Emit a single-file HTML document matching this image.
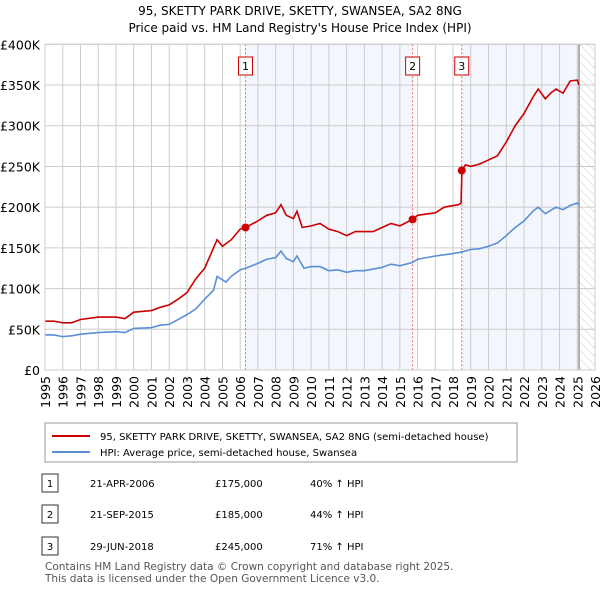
<!DOCTYPE html>
<html><head><meta charset="utf-8"><style>
body{margin:0;width:600px;height:590px;background:#fff;font-family:"DejaVu Sans","Liberation Sans",sans-serif;color:#222;overflow:hidden}
</style></head><body>
<svg width="600" height="590" style="position:absolute;left:0;top:0" font-family="DejaVu Sans, Liberation Sans, sans-serif">
<defs><pattern id="hatch" width="6" height="6" patternUnits="userSpaceOnUse" patternTransform="rotate(-45)"><line x1="0" y1="0" x2="0" y2="6" stroke="#ccc" stroke-width="1"/></pattern></defs>
<text x="300" y="15" text-anchor="middle" font-size="12">95, SKETTY PARK DRIVE, SKETTY, SWANSEA, SA2 8NG</text>
<text x="300" y="32" text-anchor="middle" font-size="12">Price paid vs. HM Land Registry's House Price Index (HPI)</text>
<g id="plot"></g>
<rect x="45" y="423" width="472" height="39" fill="#fff" stroke="#999"/>
<line x1="52" y1="436" x2="90" y2="436" stroke="#cc0000" stroke-width="2"/>
<text x="100" y="440" font-size="10">95, SKETTY PARK DRIVE, SKETTY, SWANSEA, SA2 8NG (semi-detached house)</text>
<line x1="52" y1="452" x2="90" y2="452" stroke="#5b8fd4" stroke-width="2"/>
<text x="100" y="456" font-size="10">HPI: Average price, semi-detached house, Swansea</text>
<g font-size="10">
<rect x="42" y="474" width="16" height="18" fill="#fff" stroke="#333"/><text x="50" y="487" text-anchor="middle">1</text>
<text x="90" y="487">21-APR-2006</text><text x="215" y="487">£175,000</text><text x="310" y="487">40% ↑ HPI</text>
<rect x="42" y="505" width="16" height="18" fill="#fff" stroke="#333"/><text x="50" y="518" text-anchor="middle">2</text>
<text x="90" y="518">21-SEP-2015</text><text x="215" y="518">£185,000</text><text x="310" y="518">44% ↑ HPI</text>
<rect x="42" y="537" width="16" height="18" fill="#fff" stroke="#333"/><text x="50" y="550" text-anchor="middle">3</text>
<text x="90" y="550">29-JUN-2018</text><text x="215" y="550">£245,000</text><text x="310" y="550">71% ↑ HPI</text>
</g>
<text x="45" y="570" font-size="10.5" fill="#555">Contains HM Land Registry data © Crown copyright and database right 2025.</text>
<text x="45" y="582" font-size="10.5" fill="#555">This data is licensed under the Open Government Licence v3.0.</text>
</svg>
<script>
const hpiX=[1995,1995.5,1996,1996.5,1997,1998,1999,1999.5,2000,2001,2001.5,2002,2002.5,2003,2003.5,2004,2004.5,2004.7,2005.2,2005.5,2006,2006.3,2007,2007.5,2008,2008.3,2008.6,2009,2009.2,2009.6,2010,2010.5,2011,2011.5,2012,2012.5,2013,2013.5,2014,2014.5,2015,2015.7,2016,2017,2018,2018.5,2019,2019.5,2020,2020.5,2021,2021.5,2022,2022.5,2022.8,2023.2,2023.5,2023.8,2024.2,2024.6,2025,2025.1];
const hpiY=[43,43,41,42,44,46,47,46,51,52,55,56,62,68,75,87,98,115,108,115,123,125,131,136,138,146,137,133,140,125,127,127,122,123,120,122,122,124,126,130,128,132,136,140,143,145,148,149,152,156,165,175,183,195,200,192,196,200,197,202,205,203];
const propX=[1995,1995.5,1996,1996.5,1997,1998,1999,1999.5,2000,2001,2001.5,2002,2002.5,2003,2003.5,2004,2004.5,2004.7,2005,2005.5,2006,2006.3,2007,2007.5,2008,2008.3,2008.6,2009,2009.2,2009.5,2010,2010.5,2011,2011.5,2012,2012.5,2013,2013.5,2014,2014.5,2015,2015.72,2016,2017,2017.5,2018.3,2018.45,2018.5,2018.7,2019,2019.5,2020,2020.5,2021,2021.5,2022,2022.5,2022.8,2023.2,2023.5,2023.8,2024.2,2024.6,2025,2025.1];
const propY=[60,60,58,58,62,65,65,63,71,73,77,80,87,95,112,125,150,160,152,160,173,175,183,190,193,203,190,186,195,175,177,180,173,170,165,170,170,170,175,180,177,185,190,193,200,203,205,245,252,250,253,258,263,280,300,315,335,345,333,340,345,340,355,356,350];
const saleX=[2006.3,2015.72,2018.49];
const saleY=[175,185,245];
const saleLabels=["1","2","3"];
const yTicks=[0,50,100,150,200,250,300,350,400];
const yTickLabels=["£0","£50K","£100K","£150K","£200K","£250K","£300K","£350K","£400K"];
const xYears=[1995,1996,1997,1998,1999,2000,2001,2002,2003,2004,2005,2006,2007,2008,2009,2010,2011,2012,2013,2014,2015,2016,2017,2018,2019,2020,2021,2022,2023,2024,2025,2026];
const X0=45,X1=595,Y0=370,Y1=44.3;
const sx=v=>X0+(v-1995)/31*(X1-X0);
const sy=v=>Y0-v/400*(Y0-Y1);
const NS="http://www.w3.org/2000/svg";
const g=document.getElementById('plot');
function mk(t,a){const e=document.createElementNS(NS,t);for(const k in a)e.setAttribute(k,a[k]);g.appendChild(e);return e;}
let e;
e=mk('rect',{x:sx(saleX[0]),y:Y1,width:sx(saleX[1])-sx(saleX[0]),height:Y0-Y1,fill:'#f3f6fd'});


e=mk('rect',{x:sx(saleX[2]),y:Y1,width:sx(2025.1)-sx(saleX[2]),height:Y0-Y1,fill:'#f3f6fd'});


e=mk('rect',{x:sx(2025.1),y:Y1,width:X1-sx(2025.1),height:Y0-Y1,fill:'url(#hatch)'});


yTicks.forEach((t,i)=>{
 e=mk('line',{x1:X0,x2:X1,y1:sy(t),y2:sy(t),stroke:'#ccc'});
 
 
 e=mk('text',{x:40,y:sy(t)+5,'text-anchor':'end','font-size':12.5});e.textContent=yTickLabels[i];
 
 
});
xYears.forEach(y=>{
 e=mk('line',{x1:sx(y),x2:sx(y),y1:Y1,y2:Y0,stroke:'#ccc'});
 
 
 e=mk('text',{x:0,y:0,'font-size':12.5,'text-anchor':'end',transform:`translate(${sx(y)+5},${Y0+6}) rotate(-90)`});e.textContent=y;
 
 
});
e=mk('line',{x1:sx(2025.1),x2:sx(2025.1),y1:Y1,y2:Y0,stroke:'#999','stroke-width':1.5});


saleX.forEach((s,i)=>{
 e=mk('line',{x1:sx(s),x2:sx(s),y1:Y1,y2:Y0,stroke:'#e66','stroke-dasharray':'2,2'});
 
 
 e=mk('rect',{x:sx(s)-7,y:57,width:14,height:18,fill:'#fff',stroke:'#cc0000'});
 
 
 e=mk('text',{x:sx(s),y:70,'text-anchor':'middle','font-size':11});e.textContent=saleLabels[i];
 
 
});
e=mk('polyline',{points:hpiX.map((x,i)=>sx(x)+','+sy(hpiY[i])).join(' '),fill:'none',stroke:'#5b8fd4','stroke-width':1.6});


e=mk('polyline',{points:propX.map((x,i)=>sx(x)+','+sy(propY[i])).join(' '),fill:'none',stroke:'#cc0000','stroke-width':1.6});


saleX.forEach((s,i)=>{
 e=mk('circle',{cx:sx(s),cy:sy(saleY[i]),r:4,fill:'#cc0000'});
 
 
});
e=mk('rect',{x:X0,y:Y1,width:X1-X0,height:Y0-Y1,fill:'none',stroke:'#ccc'});


</script>
</body></html>
